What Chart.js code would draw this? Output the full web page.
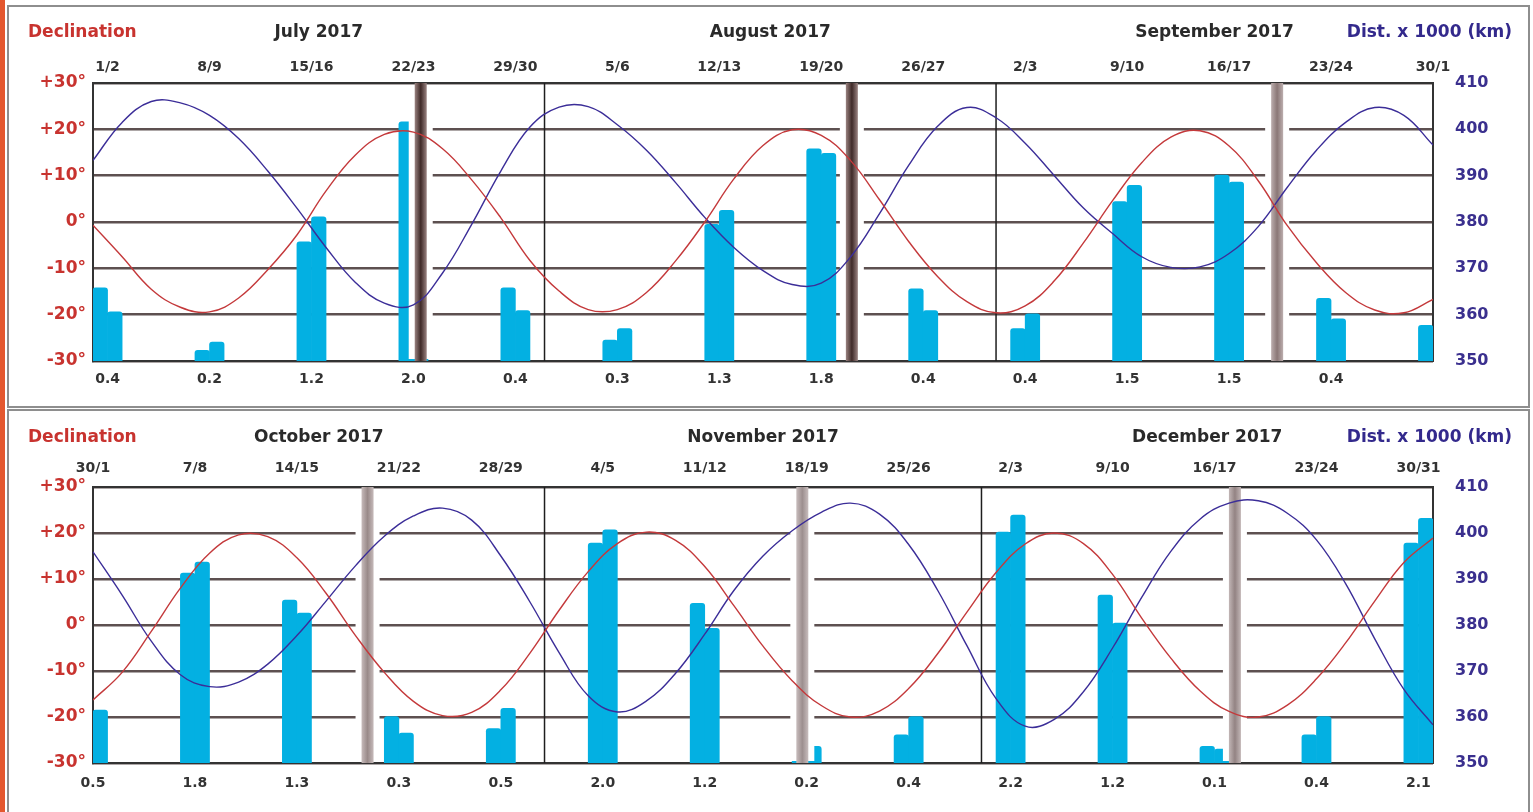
<!DOCTYPE html>
<html>
<head>
<meta charset="utf-8">
<script src="https://cdn.jsdelivr.net/npm/chart.js@4.4.0/dist/chart.umd.min.js"></script>
<style>
  body { margin:0; background:#fff; width:1533px; height:812px; overflow:hidden; position:relative; }
  .strip { position:absolute; left:0; top:0; width:5px; height:812px; background:#e4572e; }
  .panel { position:absolute; left:7px; width:1519px; border:2px solid #8e8e8e; }
  #p1 { top:5px; height:399px; }
  #p2 { top:409px; height:404px; }
  canvas { position:absolute; left:0; }
</style>
</head>
<body>
<div class="strip"></div>
<div class="panel" id="p1"></div>
<div class="panel" id="p2"></div>
<canvas id="c1" width="1533" height="408" style="top:0"></canvas>
<canvas id="c2" width="1533" height="404" style="top:408px"></canvas>
<script>
// days are counted from the first day of the first month of each panel (0 = day 1)
const curveDays = [0,2,4,6,8,10,12,14,16,18,20,22,24,26,28,30,32,34,36,38,40,42,44,46,
                   48,50,52,54,56,58,60,62,64,66,68,70,72,74,76,78,80,82,84,86,88,90,92];

// ---- upper panel: July - September 2017
const months1 = ['July 2017', 'August 2017', 'September 2017'];
const monthLen1 = [31, 31, 30];
const dateLabels1 = ['1/2','8/9','15/16','22/23','29/30','5/6','12/13','19/20','26/27','2/3','9/10','16/17','23/24','30/1'];
const dateDays1 = [1,8,15,22,29,36,43,50,57,64,71,78,85,92];
const coefLabels1 = ['0.4','0.2','1.2','2.0','0.4','0.3','1.3','1.8','0.4','0.4','1.5','1.5','0.4'];
const coefDays1 = [1,8,15,22,29,36,43,50,57,64,71,78,85];
const newMoon1 = [22.5, 52.1, 81.3];
const decl1 = [-0.7,-7.5,-14.5,-18.4,-19.4,-16.4,-10.3,-2.8,6.7,14.4,18.9,19.4,15.8,9.1,0.9,-8.3,
               -14.9,-18.9,-18.9,-15.2,-8.4,0,9.3,16.5,19.9,18.7,13.3,4.8,-4.2,-11.8,-17.2,-19.6,
               -18.1,-12.7,-4.5,4.6,12.8,18.3,19.7,16.4,8.9,-0.8,-8.8,-15.2,-19.0,-19.6,-16.7];
const dist1 = [393.3,401.5,406.0,405.7,403,398,391,383,374.5,367,362.5,362.1,369,379.5,391,400.5,
               404.8,404.9,401,395.5,388.5,381,374.5,369.5,366.5,366.8,372.4,381.8,392.2,400.7,404.7,402.5,
               397,390,383,377.5,372.5,370.2,370.3,373.2,379,387.5,395.5,401.5,404.7,403.0,396.6];
const barDays1 = [0,1,7,8,14,15,21,22,28,29,35,36,42,43,49,50,56,57,63,64,70,71,77,78,84,85,91];
const barVals1 = [15.8,10.6,2.3,4.1,25.7,31.1,51.6,50,15.8,10.9,4.5,7.0,29.5,32.5,45.8,44.8,
                  15.6,10.9,7.0,10.2,34.4,37.9,40.1,38.6,13.5,9.1,7.7];

// ---- lower panel: October - December 2017
const months2 = ['October 2017', 'November 2017', 'December 2017'];
const monthLen2 = [31, 30, 31];
const dateLabels2 = ['30/1','7/8','14/15','21/22','28/29','4/5','11/12','18/19','25/26','2/3','9/10','16/17','23/24','30/31'];
const dateDays2 = [0,7,14,21,28,35,42,49,56,63,70,77,84,91];
const coefLabels2 = ['0.5','1.8','1.3','0.3','0.5','2.0','1.2','0.2','0.4','2.2','1.2','0.1','0.4','2.1'];
const coefDays2 = [0,7,14,21,28,35,42,49,56,63,70,77,84,91];
const newMoon2 = [18.85, 48.7, 78.4];
const decl2 = [-16.3,-10.3,-1.4,8.0,15.6,19.6,19.2,14.6,6.9,-2.2,-10.3,-16.6,-19.7,-19.0,-14.1,-6.1,
               3.2,11.6,17.7,20.2,18.4,12.7,4.2,-4.6,-12.1,-17.5,-20.0,-18.7,-13.8,-6.2,2.8,11.4,
               17.6,20.0,17.7,11.0,1.5,-7.2,-14.3,-18.8,-20.0,-17.4,-11.7,-3.9,5.2,13.6,18.9];
const dist2 = [395.9,386.5,376.5,369.2,366.6,367.6,371.5,377.7,385.2,392.8,399.3,403.7,405.4,402.8,395.0,385,
               374,364.6,361.1,363.5,369.5,378,387.5,395,400.5,404.5,406.5,404.1,397.5,387.5,375.5,364,
               358.0,359.5,365.5,375,386,396,403,406.5,407.0,404.3,398.5,389,377,366,358.3];
const barDays2 = [0,6,7,13,14,20,21,27,28,34,35,41,42,48,49,55,56,62,63,69,70,76,77,83,84,90,91];
const barVals2 = [11.5,41.3,43.7,35.4,32.6,10.1,6.5,7.5,11.9,47.8,50.7,34.7,29.3,3.0,3.6,
                  6.1,10.1,50.2,53.9,36.5,30.4,3.6,3.0,6.1,10.1,47.8,53.2];

Chart.defaults.font.family = '"DejaVu Sans", sans-serif';

function boundaries(lens) {
  const out = [0];
  lens.forEach(l => out.push(out[out.length - 1] + l));
  return out;
}

const moonPlugin = {
  id: 'moon',
  afterDatasetDraw(chart, args, opts) {
    if (args.meta.type !== 'bar') return;
    const ctx = chart.ctx, a = chart.chartArea, x = chart.scales.x;
    ctx.save();
    // month separators
    const b = boundaries(opts.monthLen).slice(1, -1);
    ctx.strokeStyle = '#1e1e1e';
    ctx.lineWidth = 1.5;
    b.forEach(d => {
      const px = x.getPixelForValue(d);
      ctx.beginPath();
      ctx.moveTo(px, a.top);
      ctx.lineTo(px, a.bottom);
      ctx.stroke();
    });
    // new moon bands
    opts.newMoon.forEach((d, i) => {
      const px = x.getPixelForValue(d);
      ctx.fillStyle = '#fff';
      ctx.fillRect(px - 12, a.top + 2, 24, a.bottom - a.top - 4);
      const g = ctx.createLinearGradient(px - 6, 0, px + 6, 0);
      g.addColorStop(0, opts.bandEdge[i]);
      g.addColorStop(0.5, opts.bandMid[i]);
      g.addColorStop(1, opts.bandEdge[i]);
      ctx.fillStyle = g;
      ctx.fillRect(px - 6, a.top, 12, a.bottom - a.top);
    });
    ctx.restore();
  },
  afterDraw(chart, args, opts) {
    const ctx = chart.ctx;
    ctx.save();
    ctx.font = 'bold 17px "DejaVu Sans"';
    ctx.textBaseline = 'middle';
    ctx.fillStyle = '#c8332f';
    ctx.textAlign = 'left';
    ctx.fillText('Declination', 28, opts.titleY);
    ctx.fillStyle = '#33298c';
    ctx.textAlign = 'right';
    ctx.fillText('Dist. x 1000 (km)', 1512, opts.titleY);
    ctx.restore();
  }
};

function makeChart(id, p, lay) {
  const starts = boundaries(p.monthLen);
  const monthMid = p.months.map((m, i) => (starts[i] + starts[i + 1]) / 2);
  const frame = {display: true, color: '#333', width: 2};
  const xBase = {type: 'linear', min: 0, max: 92, offset: false,
                 grid: {display: false, drawTicks: false, offset: false}};
  return new Chart(document.getElementById(id), {
    type: 'bar',
    data: {
      datasets: [
        {type: 'line', label: 'Declination', data: curveDays.map((d, i) => ({x: d, y: p.decl[i]})),
         yAxisID: 'y', borderColor: '#c4393b', borderWidth: 1.4, pointRadius: 0, tension: 0.4, order: 1},
        {type: 'line', label: 'Distance', data: curveDays.map((d, i) => ({x: d, y: p.dist[i]})),
         yAxisID: 'yDist', borderColor: '#3b2d98', borderWidth: 1.4, pointRadius: 0, tension: 0.4, order: 2},
        {type: 'bar', label: 'bars', data: p.barDays.map((d, i) => ({x: d + 0.5, y: p.barVals[i]})),
         yAxisID: 'yBar', backgroundColor: '#03b0e2', barPercentage: 1, categoryPercentage: 1,
         borderRadius: 3, borderSkipped: 'start', order: 3}
      ]
    },
    options: {
      responsive: false,
      devicePixelRatio: 1,
      animation: false,
      layout: {padding: 0},
      plugins: {
        legend: {display: false},
        tooltip: {enabled: false},
        moon: {monthLen: p.monthLen, newMoon: p.newMoon, bandMid: p.bandMid, bandEdge: p.bandEdge, titleY: lay.titleY}
      },
      scales: {
        x: Object.assign({}, xBase, {
          position: 'bottom',
          border: frame,
          afterBuildTicks: ax => { ax.ticks = p.coefDays.map(v => ({value: v})); },
          afterFit: ax => { ax.height = lay.bottomH; },
          ticks: {autoSkip: false, maxRotation: 0, padding: lay.coefPad, color: '#333',
                  font: {size: 14, weight: 'bold'}, callback: (v, i) => p.coefLabels[i]}
        }),
        xTop: Object.assign({}, xBase, {
          position: 'top', weight: 0,
          border: frame,
          afterBuildTicks: ax => { ax.ticks = p.dateDays.map(v => ({value: v})); },
          afterFit: ax => { ax.height = lay.dateH; },
          ticks: {autoSkip: false, maxRotation: 0, padding: lay.datePad, color: '#333',
                  font: {size: 14, weight: 'bold'}, callback: (v, i) => p.dateLabels[i]}
        }),
        xMonth: Object.assign({}, xBase, {
          position: 'top', weight: 5,
          border: {display: false},
          afterBuildTicks: ax => { ax.ticks = monthMid.map(v => ({value: v})); },
          afterFit: ax => { ax.height = lay.monthH; },
          ticks: {autoSkip: false, maxRotation: 0, padding: lay.monthPad, color: '#2a2a2a',
                  font: {size: 17, weight: 'bold'}, callback: (v, i) => p.months[i]}
        }),
        y: {
          position: 'left', min: -30, max: 30,
          border: frame,
          grid: {color: '#5d5050', lineWidth: 2.5, drawTicks: false},
          afterFit: ax => { ax.width = 93; },
          ticks: {stepSize: 10, padding: 7, color: '#c8332f', font: {size: 17, weight: 'bold'},
                  callback: v => (v > 0 ? '+' : '') + v + '°'}
        },
        yDist: {
          position: 'right', min: 350, max: 410,
          border: frame,
          grid: {display: false, drawTicks: false},
          afterFit: ax => { ax.width = 100; },
          ticks: {stepSize: 10, padding: 22, color: '#3a2f8e', font: {size: 16, weight: 'bold'}}
        },
        yBar: {display: false, min: 0, max: 60}
      }
    },
    plugins: [moonPlugin]
  });
}

makeChart('c1', {
  months: months1, monthLen: monthLen1, dateLabels: dateLabels1, dateDays: dateDays1,
  coefLabels: coefLabels1, coefDays: coefDays1, newMoon: newMoon1,
  decl: decl1, dist: dist1, barDays: barDays1, barVals: barVals1,
  bandMid: ['#3f2a28', '#3f2a28', '#8a7776'], bandEdge: ['#9a8381', '#9a8381', '#bcaeae']
}, {titleY: 33, monthH: 53, monthPad: 9.8, dateH: 30, datePad: 7.6, bottomH: 47, coefPad: 9.6});

makeChart('c2', {
  months: months2, monthLen: monthLen2, dateLabels: dateLabels2, dateDays: dateDays2,
  coefLabels: coefLabels2, coefDays: coefDays2, newMoon: newMoon2,
  decl: decl2, dist: dist2, barDays: barDays2, barVals: barVals2,
  bandMid: ['#998a89', '#9c8e8e', '#938383'], bandEdge: ['#c6baba', '#c8bdbd', '#c2b6b6']
}, {titleY: 30, monthH: 49, monthPad: 8.8, dateH: 30, datePad: 10.6, bottomH: 49, coefPad: 11.6});
</script>
</body>
</html>
